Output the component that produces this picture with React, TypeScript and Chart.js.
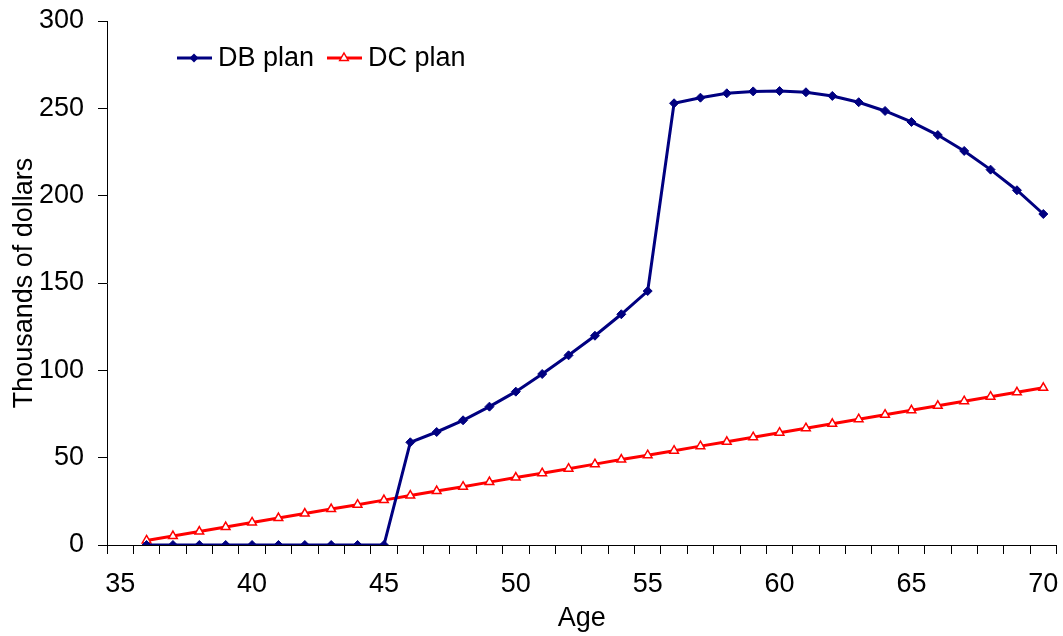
import React, { useEffect, useRef } from "react";
import { Chart, registerables } from "chart.js";

Chart.register(...registerables);

const ages = [
  35, 36, 37, 38, 39, 40, 41, 42, 43, 44, 45, 46, 47, 48, 49, 50, 51, 52,
  53, 54, 55, 56, 57, 58, 59, 60, 61, 62, 63, 64, 65, 66, 67, 68, 69, 70,
];

const dbPlan = [
  null, 0, 0, 0, 0, 0, 0, 0, 0, 0, 0, 58.8, 64.7, 71.4, 79.2, 87.8, 97.9,
  108.6, 119.8, 132.1, 145.4, 252.9, 256.1, 258.6, 259.7, 259.9, 259.2,
  257.1, 253.5, 248.5, 242.2, 234.7, 225.6, 214.9, 203.1, 189.5,
];

const dcPlan = [
  null, 2.6, 5.1, 7.7, 10.3, 12.9, 15.4, 18.0, 20.6, 23.1, 25.7, 28.3, 30.9,
  33.4, 36.0, 38.6, 41.1, 43.7, 46.3, 48.9, 51.4, 54.0, 56.6, 59.1, 61.7,
  64.3, 66.9, 69.4, 72.0, 74.6, 77.1, 79.7, 82.3, 84.9, 87.4, 90.0,
];

const yTicks = [0, 50, 100, 150, 200, 250, 300];

const seriesNames = ["DB plan", "DC plan"];
const seriesColors = ["#000080", "#FF0000"];

const FONT = "'Liberation Sans', Arial, sans-serif";

const legendPlugin = {
  id: "lineLegend",
  afterDraw(chart: any) {
    const ctx = chart.ctx as CanvasRenderingContext2D;
    const y = 58;
    const items = [
      { x: 177, name: seriesNames[0], color: seriesColors[0], shape: "diamond" },
      { x: 327, name: seriesNames[1], color: seriesColors[1], shape: "triangle" },
    ];
    ctx.save();
    for (const it of items) {
      ctx.strokeStyle = it.color;
      ctx.lineWidth = 3;
      ctx.beginPath();
      ctx.moveTo(it.x, y);
      ctx.lineTo(it.x + 35, y);
      ctx.stroke();
      const cx = it.x + 17;
      ctx.lineWidth = 1.5;
      if (it.shape === "diamond") {
        ctx.fillStyle = it.color;
        ctx.beginPath();
        ctx.moveTo(cx, y - 4.5);
        ctx.lineTo(cx + 4.5, y);
        ctx.lineTo(cx, y + 4.5);
        ctx.lineTo(cx - 4.5, y);
        ctx.closePath();
        ctx.fill();
      } else {
        ctx.fillStyle = "#ffffff";
        ctx.beginPath();
        ctx.moveTo(cx, y - 5);
        ctx.lineTo(cx + 4.3, y + 2.5);
        ctx.lineTo(cx - 4.3, y + 2.5);
        ctx.closePath();
        ctx.fill();
        ctx.stroke();
      }
      ctx.fillStyle = "#000000";
      ctx.font = `27px ${FONT}`;
      ctx.textBaseline = "middle";
      ctx.textAlign = "left";
      ctx.fillText(it.name, it.x + 41, y + 1);
    }
    ctx.restore();
  },
};

export default function App() {
  const canvasRef = useRef<HTMLCanvasElement | null>(null);

  useEffect(() => {
    document.body.style.margin = "0";
    const canvas = canvasRef.current;
    if (!canvas) return;
    const chart = new Chart(canvas, {
      type: "line",
      data: {
        labels: ages.map(String),
        datasets: [
          {
            label: seriesNames[0],
            data: dbPlan,
            borderColor: seriesColors[0],
            backgroundColor: seriesColors[0],
            borderWidth: 3,
            pointStyle: "rectRot",
            pointRadius: 4.5,
            pointBorderWidth: 1,
            pointBackgroundColor: seriesColors[0],
            pointBorderColor: seriesColors[0],
            tension: 0,
            spanGaps: false,
          },
          {
            label: seriesNames[1],
            data: dcPlan,
            borderColor: seriesColors[1],
            backgroundColor: "#ffffff",
            borderWidth: 3,
            pointStyle: "triangle",
            pointRadius: 5,
            pointBorderWidth: 1.5,
            pointBackgroundColor: "#ffffff",
            pointBorderColor: seriesColors[1],
            tension: 0,
          },
        ],
      },
      options: {
        animation: false,
        responsive: false,
        layout: { padding: { left: 0, right: 6, top: 21, bottom: 0 } },
        plugins: {
          legend: { display: false },
          tooltip: { enabled: false },
        },
        scales: {
          x: {
            type: "category",
            offset: true,
            afterFit(scale: any) {
              scale.height = 91;
              scale.paddingLeft = 0;
              scale.paddingRight = 0;
            },
            grid: {
              offset: true,
              drawOnChartArea: false,
              drawTicks: true,
              tickLength: 9,
              color: "#000000",
              lineWidth: 1,
            },
            border: { display: true, color: "#000000", width: 1 },
            ticks: {
              autoSkip: false,
              maxRotation: 0,
              minRotation: 0,
              padding: 14,
              color: "#000000",
              font: { family: FONT, size: 27 },
              callback(this: any, val: any) {
                const label = this.getLabelForValue(val);
                return Number(label) % 5 === 0 ? label : "";
              },
            },
            title: {
              display: true,
              text: "Age",
              color: "#000000",
              font: { family: FONT, size: 27 },
              padding: { top: 0, bottom: 1 },
            },
          },
          y: {
            type: "linear",
            min: 0,
            max: 300,
            afterFit(scale: any) {
              scale.width = 107;
              scale.paddingTop = 0;
              scale.paddingBottom = 0;
            },
            afterBuildTicks(scale: any) {
              scale.ticks = yTicks.map((v) => ({ value: v }));
            },
            grid: {
              drawOnChartArea: false,
              drawTicks: true,
              tickLength: 9,
              color: "#000000",
              lineWidth: 1,
            },
            border: { display: true, color: "#000000", width: 1 },
            ticks: {
              padding: 14,
              color: "#000000",
              font: { family: FONT, size: 27 },
            },
            title: {
              display: true,
              text: "Thousands of dollars",
              color: "#000000",
              font: { family: FONT, size: 27 },
              padding: { top: 8, bottom: 0 },
            },
          },
        },
      },
      plugins: [legendPlugin],
    });
    return () => chart.destroy();
  }, []);

  return (
    <div style={{ position: "absolute", left: 0, top: 0 }}>
      <canvas ref={canvasRef} width={1063} height={636} />
    </div>
  );
}
